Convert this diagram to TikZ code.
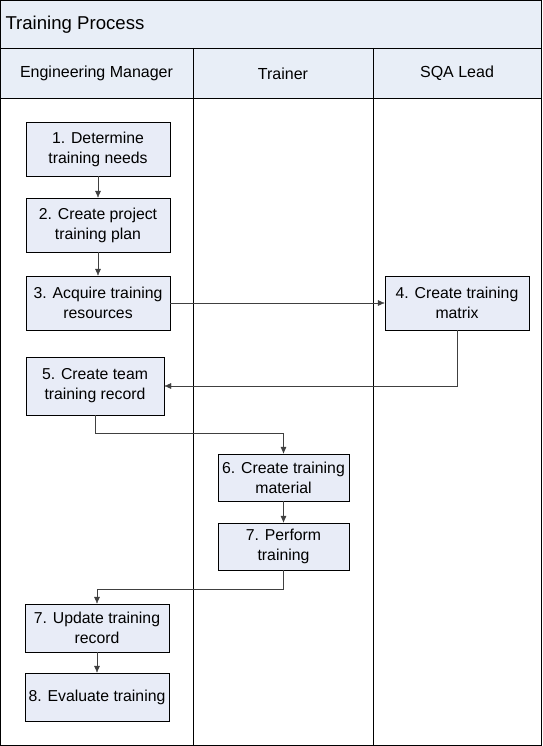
\documentclass[tikz,border=0pt]{standalone}
\usepackage{fontspec}
\setmainfont{Liberation Sans}
\usetikzlibrary{positioning, arrows.meta}

\definecolor{lanefill}{RGB}{232,238,247}
\definecolor{taskfill}{RGB}{232,236,247}
\definecolor{flowgray}{RGB}{64,64,64}

\tikzset{
  task/.style={draw=black, fill=taskfill, rectangle, align=center, inner sep=0pt,
    font=\fontsize{15.8}{20}\selectfont},
  lanehead/.style={font=\fontsize{16}{19}\selectfont},
  flow/.style={draw=flowgray, -{Latex[length=7pt,width=6pt]}},
}

\begin{document}
\begin{tikzpicture}[x=1pt, y=-1pt]
  \useasboundingbox (0,0) rectangle (542,746);

  % pool and lanes
  \fill[lanefill] (0,0) rectangle (542,98);
  \draw (0,48) -- (542,48);
  \draw (0,98) -- (542,98);
  \draw (193,48) -- (193,746);
  \draw (373,48) -- (373,746);
  \draw[line width=1.2pt] (0.6,0.6) rectangle (541.4,745.4);

  \node[anchor=west, font=\fontsize{18.6}{22}\selectfont] (title) at (2,24.5) {Training Process};
  \node[lanehead] (engmgr) at (96.5,73.5) {Engineering Manager};
  \node[lanehead] (trainer) at (283,73.5) {Trainer};
  \node[lanehead] (sqalead) at (457,73.5) {SQA Lead};

  % tasks
  \node[task, minimum width=144, minimum height=54] (determine) at (98,149) {1. Determine\\training needs};
  \node[task, minimum width=144, minimum height=54] (plan) at (98,225) {2. Create project\\training plan};
  \node[task, minimum width=144, minimum height=54] (acquire) at (98,303) {3. Acquire training\\resources};
  \node[task, minimum width=144, minimum height=54] (matrix) at (457,303) {4. Create training\\matrix};
  \node[task, minimum width=138, minimum height=58] (record) at (95,386) {5. Create team\\training record};
  \node[task, minimum width=131, minimum height=47] (material) at (283.5,477.5) {6. Create training\\material};
  \node[task, minimum width=131, minimum height=47] (perform) at (283.5,546.5) {7. Perform\\training};
  \node[task, minimum width=144, minimum height=48] (update) at (97,628) {7. Update training\\record};
  \node[task, minimum width=144, minimum height=48] (evaluate) at (97,697) {8. Evaluate training};

  % flows
  \draw[flow] (determine) -- (plan);
  \draw[flow] (plan) -- (acquire);
  \draw[flow] (acquire) -- (matrix);
  \draw[flow] (matrix.south) |- (record.east);
  \draw[flow] (record.south) -- ++(0,18) -| (material.north);
  \draw[flow] (material) -- (perform);
  \draw[flow] (perform.south) -- ++(0,19) -| (update.north);
  \draw[flow] (update) -- (evaluate);
\end{tikzpicture}
\end{document}
